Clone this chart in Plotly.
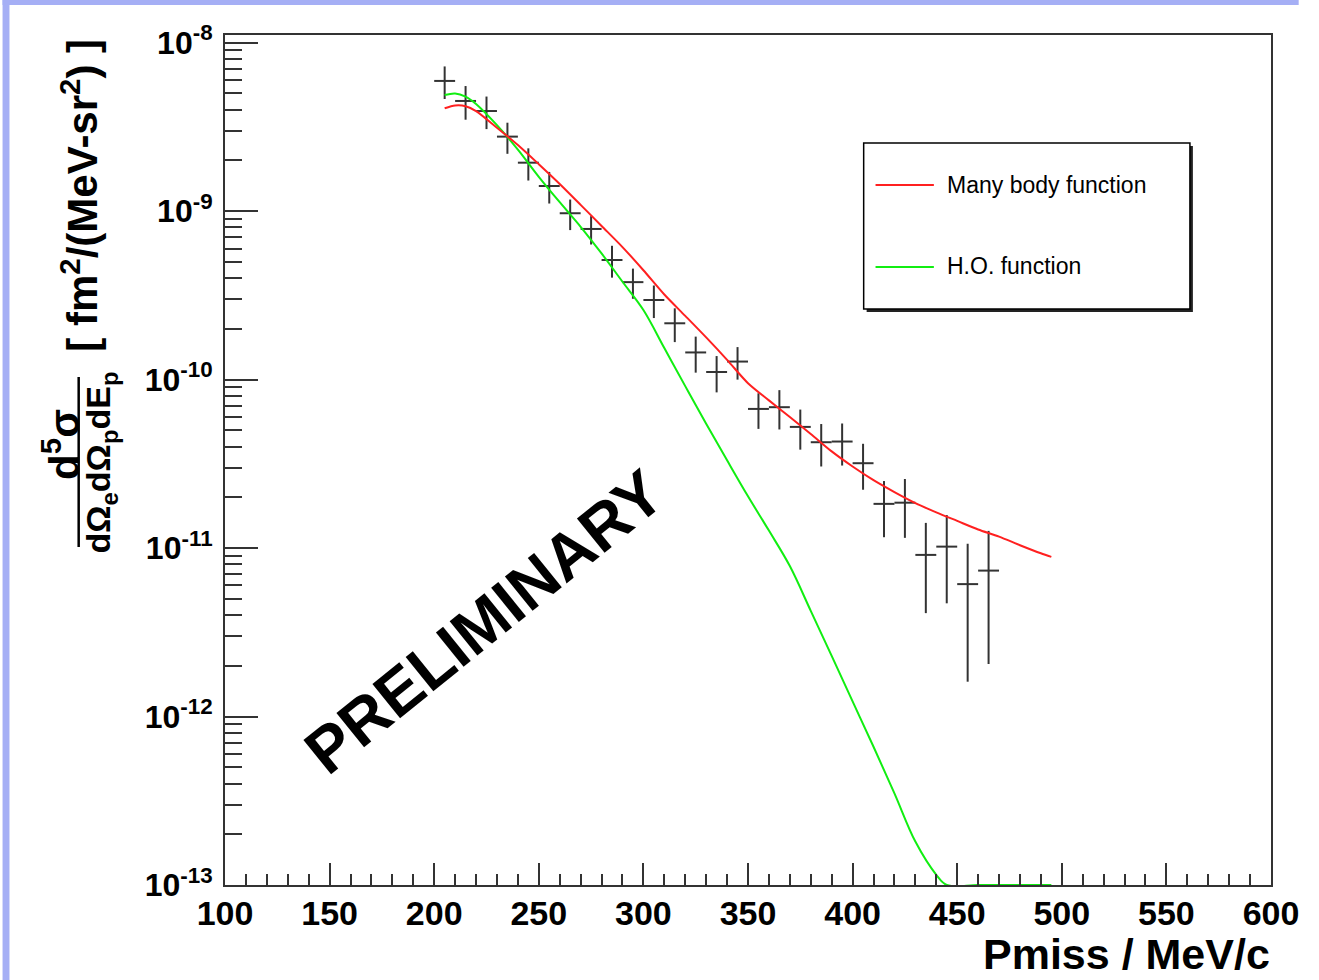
import plotly.graph_objects as go

# ---------------- data ----------------
# measured cross section, bin centres in MeV/c (bin half-width 5 MeV/c)
pmiss = [205, 215, 225, 235, 245, 255, 265, 275, 285, 295, 305, 315, 325, 335,
         345, 355, 365, 375, 385, 395, 405, 415, 425, 435, 445, 455, 465]
xsec = [5.93e-9, 4.51e-9, 3.93e-9, 2.77e-9, 1.94e-9, 1.41e-9, 9.72e-10, 7.84e-10,
        5.13e-10, 3.79e-10, 2.97e-10, 2.16e-10, 1.45e-10, 1.11e-10, 1.28e-10,
        6.70e-11, 6.86e-11, 5.24e-11, 4.25e-11, 4.29e-11, 3.19e-11, 1.83e-11,
        1.86e-11, 9.11e-12, 1.02e-11, 6.11e-12, 7.35e-12]
xsec_err = [1.30e-9, 1.02e-9, 8.6e-10, 5.8e-10, 4.2e-10, 3.0e-10, 2.0e-10, 1.5e-10,
            1.1e-10, 7.7e-11, 6.5e-11, 4.9e-11, 3.5e-11, 2.7e-11, 2.8e-11,
            1.6e-11, 1.8e-11, 1.4e-11, 1.2e-11, 1.2e-11, 9.7e-12, 6.7e-12,
            7.1e-12, 5.0e-12, 5.5e-12, 4.5e-12, 5.3e-12]
bin_half_width = 5

# many body spectral function calculation
mb_p = [205, 210, 215, 220, 230, 240, 250, 260, 270, 280, 290, 300, 310, 320, 330,
        340, 350, 360, 370, 380, 390, 400, 410, 420, 430, 440, 450, 460, 470, 480,
        490, 495]
mb_xsec = [4.08e-9, 4.24e-9, 4.2e-9, 3.93e-9, 3.13e-9, 2.47e-9, 1.90e-9, 1.45e-9,
           1.09e-9, 8.17e-10, 6.12e-10, 4.46e-10, 3.20e-10, 2.39e-10, 1.78e-10,
           1.31e-10, 9.52e-11, 7.53e-11, 6.00e-11, 4.76e-11, 3.75e-11, 3.05e-11,
           2.53e-11, 2.15e-11, 1.85e-11, 1.63e-11, 1.45e-11, 1.29e-11, 1.17e-11,
           1.04e-11, 9.31e-12, 8.87e-12]

# harmonic oscillator calculation (drawn on the frame floor where it leaves the range)
ho_p = [205, 210, 215, 220, 230, 240, 250, 260, 270, 280, 290, 300, 310, 320, 330,
        340, 350, 360, 370, 380, 390, 400, 410, 420, 430, 440, 445, 460, 480, 495]
ho_xsec = [4.89e-9, 5.00e-9, 4.79e-9, 4.33e-9, 3.24e-9, 2.32e-9, 1.60e-9, 1.13e-9,
           8.08e-10, 5.61e-10, 3.81e-10, 2.59e-10, 1.54e-10, 9.15e-11, 5.47e-11,
           3.32e-11, 2.03e-11, 1.27e-11, 7.82e-12, 4.24e-12, 2.29e-12, 1.23e-12,
           6.62e-13, 3.50e-13, 1.81e-13, 1.15e-13, 1.0e-13, 1.0e-13, 1.0e-13, 1.0e-13]

x_ticks = [100, 150, 200, 250, 300, 350, 400, 450, 500, 550, 600]
y_exponents = [-13, -12, -11, -10, -9, -8]

# ---------------- geometry helpers ----------------
W, H = 1311, 980          # figure size in px
L, T = 225, 35            # plot area left/top edge
PLOT_RIGHT, PLOT_BOTTOM = 1283, 885
R, B = W - PLOT_RIGHT, H - PLOT_BOTTOM
PW, PH = PLOT_RIGHT - L, PLOT_BOTTOM - T


def fx(px):
    return (px - L) / PW


def fy(py):
    return 1 - (py - T) / PH


FONT = "Liberation Sans"
AXC = "#333333"

fig = go.Figure()

fig.add_trace(go.Scatter(
    x=pmiss, y=xsec, mode="markers", name="data",
    marker=dict(size=1, color="rgba(0,0,0,0)"),
    error_y=dict(type="data", array=xsec_err, width=0, thickness=2, color="#333333"),
    error_x=dict(type="constant", value=bin_half_width, width=0, thickness=2, color="#333333"),
    showlegend=False,
))
fig.add_trace(go.Scatter(
    x=ho_p, y=ho_xsec, mode="lines", name="H.O. function",
    line=dict(color="#11ee11", width=2, shape="spline", smoothing=1.0), showlegend=False,
))
fig.add_trace(go.Scatter(
    x=mb_p, y=mb_xsec, mode="lines", name="Many body function",
    line=dict(color="#ff2020", width=2, shape="spline", smoothing=0.8), showlegend=False,
))

minor_y = [m * 10.0 ** e for e in range(-13, -7) for m in range(2, 10)]

fig.update_xaxes(
    range=[100, 600], showline=True, linecolor=AXC, linewidth=2, mirror=True,
    showgrid=False, zeroline=False,
    tickmode="array", tickvals=x_ticks, ticktext=[str(v) for v in x_ticks],
    ticks="inside", ticklen=22, tickwidth=2, tickcolor=AXC,
    minor=dict(dtick=10, ticks="inside", ticklen=11, tickwidth=2, tickcolor=AXC, showgrid=False),
    tickfont=dict(family=FONT, size=34, color="black", weight="bold"),
    ticklabelstandoff=-3, ticklabeloverflow="allow",
)
fig.update_yaxes(
    type="log", range=[-13, -7.9543], showline=True, linecolor=AXC, linewidth=2,
    mirror=True, showgrid=False, zeroline=False,
    tickmode="array", tickvals=[10.0 ** e for e in y_exponents],
    ticktext=["10<sup>%d</sup>" % e for e in y_exponents],
    ticks="inside", ticklen=33, tickwidth=2, tickcolor=AXC,
    minor=dict(tickmode="array", tickvals=minor_y, ticks="inside", ticklen=17,
               tickwidth=2, tickcolor=AXC, showgrid=False),
    tickfont=dict(family=FONT, size=32, color="black", weight="bold"),
    ticklabelstandoff=4,
)

shapes = []
# lavender page border (left and top)
BORDER = "#a5aff5"
shapes.append(dict(type="rect", xref="paper", yref="paper", x0=fx(0), x1=fx(7),
                   y0=fy(H), y1=fy(0), fillcolor=BORDER, line=dict(width=0), layer="below"))
shapes.append(dict(type="rect", xref="paper", yref="paper", x0=fx(0), x1=fx(W),
                   y0=fy(5), y1=fy(0), fillcolor=BORDER, line=dict(width=0), layer="below"))
# fraction bar of the y-axis title
shapes.append(dict(type="line", xref="paper", yref="paper", x0=fx(77), x1=fx(77),
                   y0=fy(547), y1=fy(377), line=dict(color="black", width=2.5)))
# legend box with shadow
shapes.append(dict(type="rect", xref="paper", yref="paper", x0=fx(874), x1=fx(1204),
                   y0=fy(312), y1=fy(146), fillcolor="#222222", line=dict(width=0)))
shapes.append(dict(type="rect", xref="paper", yref="paper", x0=fx(871), x1=fx(1201),
                   y0=fy(309), y1=fy(143), fillcolor="white",
                   line=dict(color="black", width=1.5)))
shapes.append(dict(type="line", xref="paper", yref="paper", x0=fx(883), x1=fx(942),
                   y0=fy(185), y1=fy(185), line=dict(color="#ff2020", width=2)))
shapes.append(dict(type="line", xref="paper", yref="paper", x0=fx(883), x1=fx(942),
                   y0=fy(267), y1=fy(267), line=dict(color="#11ee11", width=2)))

annotations = [
    dict(text="Many body function", x=fx(953), y=fy(185), xanchor="left", yanchor="middle",
         font=dict(family=FONT, size=23, color="black")),
    dict(text="H.O. function", x=fx(953), y=fy(266), xanchor="left", yanchor="middle",
         font=dict(family=FONT, size=23, color="black")),
    dict(text="Pmiss / MeV/c", x=fx(1283), y=fy(979), xanchor="right", yanchor="bottom",
         borderpad=0, font=dict(family=FONT, size=43, color="black", weight="bold")),
    dict(text="PRELIMINARY", x=fx(487), y=fy(622), xanchor="center", yanchor="middle",
         textangle=-39, font=dict(family=FONT, size=64, color="black", weight="bold")),
    dict(text="[ fm<sup>2</sup>/(MeV-sr<sup>2</sup>) ]", x=fx(78), y=fy(195),
         xanchor="center", yanchor="middle", textangle=-90,
         font=dict(family=FONT, size=42, color="black", weight="bold")),
    dict(text="d<sup>5</sup>σ", x=fx(59), y=fy(444), xanchor="center", yanchor="middle",
         textangle=-90, font=dict(family=FONT, size=42, color="black", weight="bold")),
    dict(text="dΩ<sub>e</sub>dΩ<sub>p</sub>dE<sub>p</sub>", x=fx(99), y=fy(462),
         xanchor="center", yanchor="middle", textangle=-90,
         font=dict(family=FONT, size=34, color="black", weight="bold")),
]
for a in annotations:
    a.update(xref="paper", yref="paper", showarrow=False)

fig.update_layout(
    width=W, height=H, autosize=False,
    margin=dict(l=L, r=R, t=T, b=B, pad=0),
    paper_bgcolor="white", plot_bgcolor="white",
    shapes=shapes, annotations=annotations, showlegend=False,
)

# keep the page exactly the figure's size: clip anything that pokes past the graph div
page_css = (
    "document.documentElement.style.overflow='hidden';"
    "document.body.style.margin='0';document.body.style.overflow='hidden';"
    "document.querySelectorAll('.plotly-graph-div, .svg-container').forEach("
    "function(el){el.style.overflow='hidden';});"
)

fig.write_html("out.html", config={"responsive": False}, post_script=page_css)
